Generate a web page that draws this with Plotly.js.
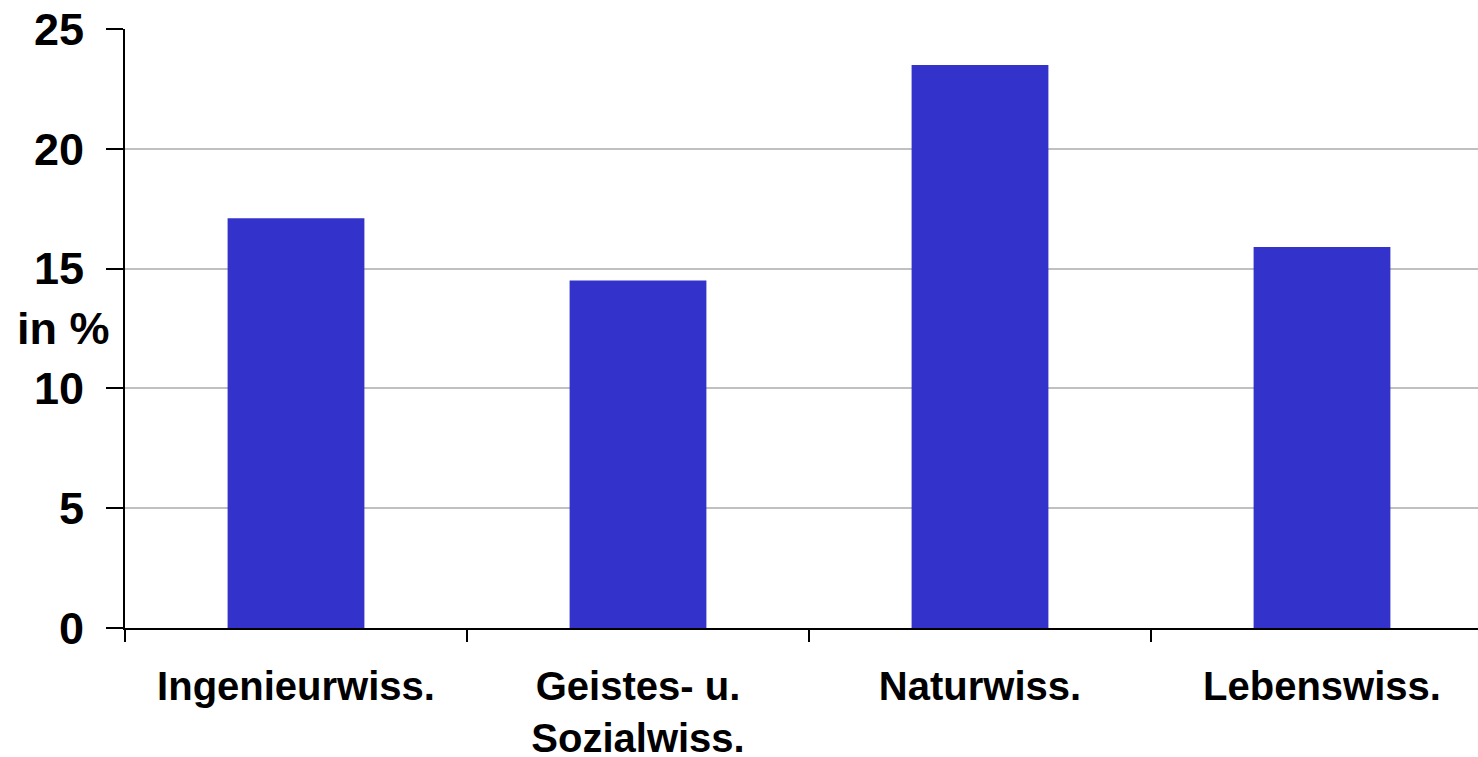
<!DOCTYPE html>
<html>
<head>
<meta charset="utf-8">
<script src="https://cdn.plot.ly/plotly-3.0.1.min.js"></script>
<style>html,body{margin:0;padding:0;background:#fff;}#chart{width:1478px;height:757px;}</style>
</head>
<body>
<div id="chart"></div>
<script>
var categories = ["Ingenieurwiss.", "Geistes- u.<br>Sozialwiss.", "Naturwiss.", "Lebenswiss."];
var values = [17.1, 14.5, 23.5, 15.9];
var yTicks = [0, 5, 10, 15, 20, 25];
var yTitle = "in %";

var idx = categories.map(function(_, i){ return i; });
var boundaries = idx.map(function(i){ return i - 0.5; });

var fontFam = "Liberation Sans, Arial, sans-serif";

var trace = {
  type: "bar",
  x: idx,
  y: values,
  width: 0.4,
  marker: {color: "#3333CC", line: {width: 0}},
  hoverinfo: "skip"
};

var layout = {
  width: 1478,
  height: 757,
  margin: {l: 125, r: 0, t: 29, b: 129, pad: 0},
  paper_bgcolor: "#ffffff",
  plot_bgcolor: "#ffffff",
  showlegend: false,
  font: {family: fontFam, color: "#000"},
  xaxis: {
    type: "linear",
    range: [-0.5, -0.5 + 1353/342],
    tickmode: "array",
    tickvals: idx,
    ticktext: categories,
    ticks: "",
    showgrid: false,
    zeroline: false,
    showline: true,
    linecolor: "#000",
    linewidth: 2,
    ticklabelstandoff: 22,
    tickfont: {family: fontFam, size: 40, weight: "bold", color: "#000"},
    minor: {tickmode: "array", tickvals: boundaries, ticks: "outside", ticklen: 12, tickwidth: 2, tickcolor: "#000", showgrid: false},
    fixedrange: true
  },
  yaxis: {
    range: [0, 25],
    tickmode: "array",
    tickvals: yTicks,
    ticktext: yTicks.map(String),
    ticks: "outside",
    ticklen: 17,
    tickwidth: 2,
    tickcolor: "#000",
    showgrid: true,
    gridcolor: "#c0c0c0",
    gridwidth: 2,
    zeroline: false,
    showline: true,
    linecolor: "#000",
    linewidth: 2,
    ticklabelstandoff: 13,
    tickfont: {family: fontFam, size: 45, weight: "bold", color: "#000"},
    fixedrange: true
  },
  annotations: [{
    text: yTitle,
    xref: "paper", yref: "y",
    x: -125/1353 + 64/1353, y: 12.5,
    xanchor: "center", yanchor: "middle",
    showarrow: false,
    font: {family: fontFam, size: 45, weight: "bold", color: "#000"}
  }]
};

Plotly.newPlot("chart", [trace], layout, {displayModeBar: false, staticPlot: true});
</script>
</body>
</html>
